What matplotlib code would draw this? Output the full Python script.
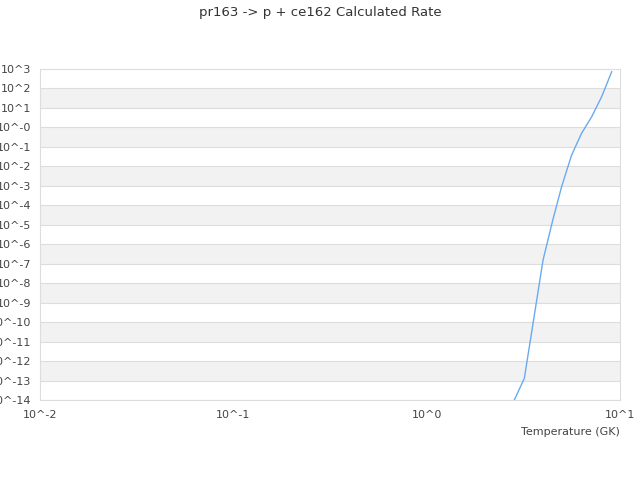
import matplotlib
matplotlib.use('Agg')
import matplotlib.pyplot as plt
import numpy as np

# temperatura (GK) e taxa
temp = [2.84, 3.2, 4.0, 4.49, 4.99, 5.62, 6.33, 7.14, 8.04, 9.06]
rate_exp = [-14.0, -12.89, -6.81, -4.76, -3.04, -1.42, -0.30, 0.55, 1.58, 2.86]
rate = [10.0 ** e for e in rate_exp]

y_exps = list(range(-14, 4))
y_labels = ['10^' + ('-0' if e == 0 else str(e)) for e in y_exps]
x_exps = [-2, -1, 0, 1]
x_labels = ['10^' + str(e) for e in x_exps]

fig = plt.figure(figsize=(6.4, 4.8), dpi=100)
ax = fig.add_axes([0.0625, 0.1667, 0.90625, 0.68955])

# faixas alternadas
for e in range(-13, 3, 2):
    ax.axhspan(10.0 ** e, 10.0 ** (e + 1), color='#f2f2f2', zorder=0, lw=0)
for e in y_exps:
    ax.axhline(10.0 ** e, color='#dddddd', lw=0.8, zorder=1)

ax.plot(temp, rate, color='#6aaaf0', lw=1.0, zorder=3, clip_on=True)

ax.set_xscale('log')
ax.set_yscale('log')
ax.set_xlim(1e-2, 1e1)
ax.set_ylim(1e-14, 1e3)
ax.set_xticks([10.0 ** e for e in x_exps])
ax.set_xticklabels(x_labels)
ax.set_yticks([10.0 ** e for e in y_exps])
ax.set_yticklabels(y_labels)
ax.minorticks_off()
ax.tick_params(axis='both', length=0, labelsize=8, colors='#444444')
ax.tick_params(axis='y', pad=6.5)
ax.tick_params(axis='x', pad=7)
for s in ax.spines.values():
    s.set_color('#dddddd')
    s.set_linewidth(0.8)

ax.set_xlabel('Temperature (GK)', loc='right', fontsize=8, color='#444444', labelpad=5)
fig.text(0.5, 0.973, 'pr163 -> p + ce162 Calculated Rate', ha='center', va='center',
         fontsize=9.5, color='#333333')

plt.savefig('out.png')
